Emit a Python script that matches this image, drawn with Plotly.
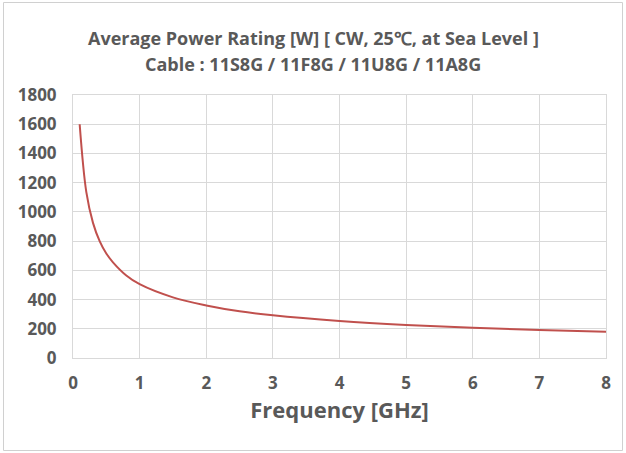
import plotly.graph_objects as go

freq_ghz = [0.1, 0.2, 0.3, 0.4, 0.5, 0.6, 0.8, 1, 1.5, 2, 2.5, 3, 4, 5, 6, 7, 8]
power_w = [1600, 1135, 925, 800, 715, 655, 565, 505, 415, 360, 320, 292, 253, 226, 207, 192, 179]
x_ticks = [0, 1, 2, 3, 4, 5, 6, 7, 8]
y_ticks = [0, 200, 400, 600, 800, 1000, 1200, 1400, 1600, 1800]
title_lines = ["Average Power Rating [W] [ CW, 25℃, at Sea Level ]",
               "Cable : 11S8G / 11F8G / 11U8G / 11A8G"]

FONT = "Open Sans"
GREY = "#595959"
W, H = 626, 453
L, R, T, B = 73, 20, 95, 95

fig = go.Figure()
fig.add_trace(go.Scatter(x=freq_ghz, y=power_w, mode="lines",
                         line=dict(color="#c0504d", width=2, shape="spline"),
                         showlegend=False, hoverinfo="skip"))

pw, ph = W - L - R, H - T - B

annotations = []
for txt, ypx in zip(title_lines, [38, 64]):
    annotations.append(dict(text=f"<b>{txt}</b>", xref="paper", yref="paper",
                            x=(W / 2 - L) / pw, y=1 + (T - ypx) / ph,
                            xanchor="center", yanchor="middle", showarrow=False,
                            font=dict(family=FONT, size=18, color=GREY)))

fig.update_layout(
    width=W, height=H,
    margin=dict(l=L, r=R, t=T, b=B),
    paper_bgcolor="white", plot_bgcolor="white",
    font=dict(family=FONT, color=GREY),
    annotations=annotations,
    xaxis=dict(range=[0, 8], tickvals=x_ticks, ticktext=[f"<b>{v}</b>" for v in x_ticks],
               showgrid=True, gridcolor="#d9d9d9", gridwidth=1, zeroline=False,
               showline=True, linecolor="#d9d9d9", mirror=True, ticks="",
               ticklabelstandoff=10,
               tickfont=dict(size=17, color=GREY, family=FONT),
               title=dict(text="<b>Frequency [GHz]</b>", font=dict(size=22, color=GREY, family=FONT), standoff=8)),
    yaxis=dict(range=[0, 1800], tickvals=y_ticks, ticktext=[f"<b>{v}</b>" for v in y_ticks],
               showgrid=True, gridcolor="#d9d9d9", gridwidth=1, zeroline=False,
               showline=True, linecolor="#d9d9d9", mirror=True, ticks="",
               ticklabelstandoff=12,
               tickfont=dict(size=17, color=GREY, family=FONT)),
    shapes=[dict(type="rect", xref="paper", yref="paper",
                 x0=(3.5 - L) / pw, x1=(622.5 - L) / pw,
                 y0=-(450.5 - (H - B)) / ph, y1=1 + (T - 2.5) / ph,
                 line=dict(color="#d0d0d0", width=1))],
)

fig.write_html("out.html", config={"displayModeBar": False},
               post_script="document.body.style.margin='0';")
